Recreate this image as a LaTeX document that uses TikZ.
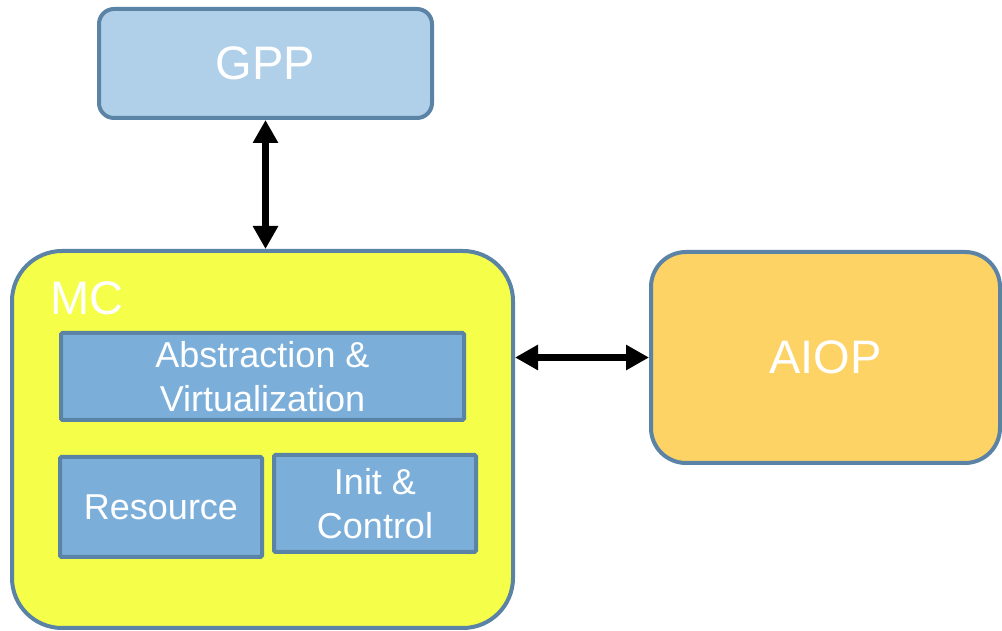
\documentclass[tikz,border=0pt]{standalone}
\usepackage{fontspec}
\setmainfont{Liberation Sans}
\usetikzlibrary{arrows.meta}
\definecolor{edgeblue}{HTML}{5A83A6}
\definecolor{gppfill}{HTML}{B0D0E9}
\definecolor{mcfill}{HTML}{F5FE48}
\definecolor{subfill}{HTML}{7BAFDA}
\definecolor{aiopfill}{HTML}{FDD365}
\tikzset{
  bigbox/.style={draw=edgeblue, line width=4pt, text=white, inner sep=0pt,
    font=\fontsize{47}{52}\selectfont},
  subbox/.style={draw=edgeblue, line width=4pt, fill=subfill, text=white,
    inner sep=0pt, rounded corners=1.5pt, align=center,
    font=\fontsize{36}{44}\selectfont},
  link/.style={line width=7pt, {Triangle[width=24pt,length=23pt]}-{Triangle[width=24pt,length=23pt]}}
}
\begin{document}
\begin{tikzpicture}[x=1pt,y=1pt]
\useasboundingbox (0,0) rectangle (1002,631);
\begin{scope}
\clip (0,0) rectangle (1002,631);
% outer blocks
\node[bigbox, fill=gppfill, rounded corners=15pt, minimum width=333pt, minimum height=109pt]
  (gpp) at (265.5,567.5) {GPP};
\node[bigbox, fill=mcfill, rounded corners=50pt, minimum width=501pt, minimum height=377pt]
  (mc) at (262.5,191.5) {};
\node[bigbox, fill=aiopfill, rounded corners=35pt, minimum width=349pt, minimum height=211pt]
  (aiop) at (825.5,273.5) {AIOP};
\node[anchor=base west, text=white, inner sep=0pt, font=\fontsize{47}{52}\selectfont]
  (mclabel) at (50,316) {MC};
% components inside MC
\node[subbox, minimum width=403pt, minimum height=87pt] (abs) at (262.5,254.5)
  {Abstraction \&\\Virtualization};
\node[subbox, minimum width=202pt, minimum height=100pt] (res) at (161,124)
  {Resource};
\node[subbox, minimum width=202pt, minimum height=97pt] (init) at (375,127.5)
  {Init \&\\Control};
% connections
\draw[link] (gpp.south) -- (gpp.south |- mc.north);
\draw[link] (aiop.west -| mc.east) -- (aiop.west);
\end{scope}
\end{tikzpicture}
\end{document}
